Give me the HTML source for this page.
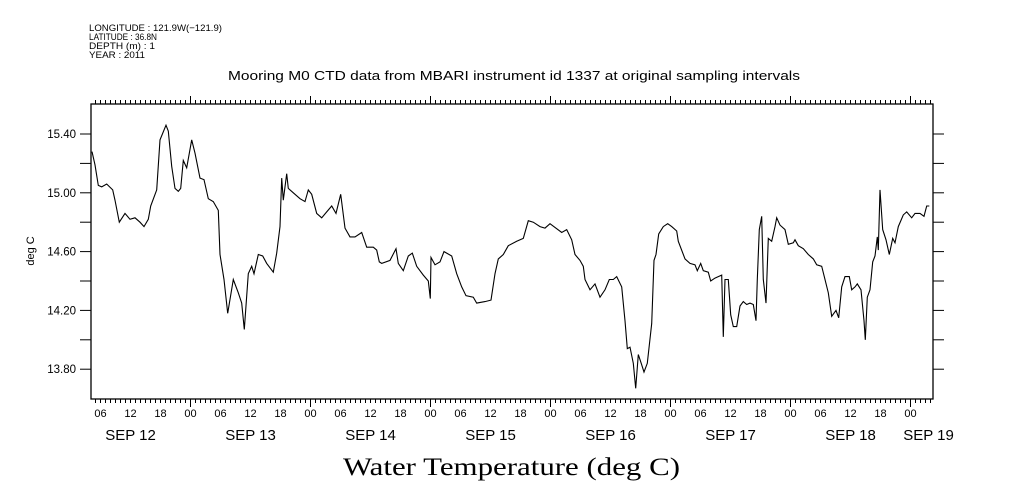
<!DOCTYPE html>
<html><head><meta charset="utf-8"><style>
html,body{margin:0;padding:0;background:#fff;}
svg{display:block;font-family:"Liberation Sans",sans-serif;}
</style></head><body>
<svg id="chart" width="1009" height="504" viewBox="0 0 1009 504" xmlns="http://www.w3.org/2000/svg">
<rect x="0" y="0" width="1009" height="504" fill="#fff"/>
<g font-size="9.5" fill="#000">
<text x="89" y="31" textLength="133" lengthAdjust="spacingAndGlyphs">LONGITUDE : 121.9W(−121.9)</text>
<text x="89" y="40" textLength="68" lengthAdjust="spacingAndGlyphs">LATITUDE : 36.8N</text>
<text x="89" y="49" textLength="66" lengthAdjust="spacingAndGlyphs">DEPTH (m) : 1</text>
<text x="89" y="58" textLength="56" lengthAdjust="spacingAndGlyphs">YEAR : 2011</text>
</g>
<text x="228" y="80" textLength="572" lengthAdjust="spacingAndGlyphs" font-size="13">Mooring M0 CTD data from MBARI instrument id 1337 at original sampling intervals</text>
<text transform="translate(34,251) rotate(-90)" text-anchor="middle" font-size="11">deg C</text>
<text x="343" y="475" textLength="337" lengthAdjust="spacingAndGlyphs" font-size="25" font-family="Liberation Serif, serif">Water Temperature (deg C)</text>
<g id="axes"></g>
<g id="series"></g>
<rect x="91" y="104" width="842" height="295" fill="none" stroke="#000" stroke-width="1.3"/>
</svg>
<script>
const yTicks = [15.40, 15.20, 15.00, 14.80, 14.60, 14.40, 14.20, 14.00, 13.80];
const yTickLabels = ["15.40", "", "15.00", "", "14.60", "", "14.20", "", "13.80"];
const hourLabels = ["06","12","18","00"];
const dayLabels = ["SEP 12","SEP 13","SEP 14","SEP 15","SEP 16","SEP 17","SEP 18","SEP 19"];
// hours since Sep 12 00:00
const hours = [4.30,4.90,5.56,6.24,7.24,8.44,8.90,9.76,10.90,11.90,12.90,13.90,14.70,15.56,16.04,17.24,17.90,19.10,19.56,20.24,20.90,21.56,22.04,22.56,23.24,24.24,24.90,25.90,26.70,27.56,28.56,29.56,29.90,30.70,31.44,32.56,33.56,34.24,34.76,35.56,36.24,36.70,37.56,38.44,39.24,40.56,41.24,41.90,42.24,42.56,43.24,43.56,44.56,45.90,46.90,47.56,48.24,49.24,50.24,51.24,52.24,53.10,54.04,54.90,55.90,56.90,58.24,59.24,60.56,61.24,61.76,62.24,63.90,65.10,65.56,66.56,67.56,68.36,69.24,70.56,71.56,71.96,72.10,72.90,73.90,74.70,76.24,77.24,78.24,79.10,80.56,81.24,82.90,84.10,84.90,85.56,86.56,87.56,89.24,90.56,91.56,92.56,93.90,94.90,95.90,98.24,99.24,100.24,100.90,101.90,102.56,102.90,103.90,104.90,105.90,106.90,107.76,108.56,109.24,110.24,110.90,111.36,111.90,112.56,113.04,113.56,114.24,114.70,115.36,116.24,116.70,117.10,117.64,118.56,119.44,120.24,121.24,121.56,122.90,123.90,124.90,125.36,126.04,126.56,127.56,128.04,128.90,129.56,130.24,130.56,130.90,131.56,132.04,132.56,133.24,133.90,134.56,135.24,135.90,136.56,137.10,137.36,137.76,138.24,138.56,139.10,139.56,140.24,140.90,141.24,141.90,142.90,143.56,144.56,144.90,145.56,146.56,147.56,148.56,149.24,150.24,150.90,151.56,152.24,153.10,153.64,154.24,154.90,155.76,156.24,156.90,157.36,158.10,158.70,158.96,159.36,159.90,160.44,160.90,161.36,161.56,161.90,162.44,163.10,163.76,164.44,164.90,165.56,166.56,167.24,168.24,168.90,169.90,170.70,171.24,171.76];
const temps = [15.28,15.19,15.05,15.04,15.06,15.02,14.95,14.80,14.86,14.82,14.83,14.80,14.77,14.82,14.91,15.02,15.36,15.46,15.42,15.18,15.03,15.01,15.03,15.22,15.17,15.36,15.27,15.10,15.09,14.96,14.94,14.88,14.58,14.41,14.18,14.41,14.32,14.25,14.07,14.45,14.50,14.45,14.58,14.57,14.52,14.46,14.59,14.77,15.10,14.95,15.13,15.03,15.00,14.96,14.94,15.02,14.99,14.86,14.83,14.87,14.91,14.86,14.99,14.76,14.70,14.70,14.73,14.63,14.63,14.61,14.53,14.52,14.54,14.62,14.52,14.47,14.57,14.59,14.50,14.44,14.40,14.28,14.56,14.51,14.53,14.60,14.57,14.45,14.36,14.30,14.29,14.25,14.26,14.27,14.45,14.55,14.58,14.64,14.67,14.69,14.81,14.80,14.77,14.76,14.79,14.73,14.75,14.68,14.58,14.54,14.50,14.41,14.34,14.38,14.29,14.34,14.41,14.41,14.43,14.36,14.13,13.94,13.95,13.84,13.67,13.90,13.83,13.78,13.84,14.11,14.54,14.58,14.72,14.77,14.79,14.77,14.74,14.67,14.55,14.52,14.51,14.47,14.52,14.47,14.46,14.40,14.42,14.43,14.44,14.02,14.41,14.41,14.17,14.09,14.09,14.23,14.26,14.24,14.25,14.24,14.13,14.41,14.75,14.84,14.41,14.25,14.69,14.67,14.77,14.83,14.78,14.75,14.65,14.66,14.68,14.64,14.62,14.58,14.55,14.51,14.50,14.41,14.32,14.16,14.20,14.15,14.36,14.43,14.43,14.34,14.36,14.38,14.34,14.13,14.00,14.29,14.34,14.53,14.57,14.70,14.61,15.02,14.75,14.68,14.58,14.69,14.66,14.77,14.85,14.87,14.83,14.86,14.86,14.84,14.91,14.91];

const NS = "http://www.w3.org/2000/svg";
const L = 91, R = 933, T = 104, B = 399;
const X0 = 190.5, PXH = 5; // Sep13 00 at X0, 5px per hour
function xScale(h){ return X0 + (h - 24) * PXH; }
function yScale(v){ return 134 + (15.4 - v) * 147; }
function mk(tag, attrs, parent){
  const e = document.createElementNS(NS, tag);
  for (const k in attrs) e.setAttribute(k, attrs[k]);
  parent.appendChild(e); return e;
}
const axes = document.getElementById('axes');
const hStart = Math.ceil((L - X0) / PXH + 24), hEnd = Math.floor((R - X0) / PXH + 24);
for (let h = hStart; h <= hEnd; h++) {
  const x = xScale(h);
  const len = h % 24 === 0 ? 8 : 4;
  const tb = mk('line', {x1:x, y1:B, x2:x, y2:B+len, stroke:'#000', 'stroke-width':1}, axes);
  
  
  const tt = mk('line', {x1:x, y1:T, x2:x, y2:T-len, stroke:'#000', 'stroke-width':1}, axes);
  
  
  if (h % 6 === 0) {
    const t = mk('text', {x:x, y:417, 'text-anchor':'middle', 'font-size':11}, axes);
    t.textContent = hourLabels[((h / 6) + 3) % 4];
    
    
  }
  if (h % 24 === 12) {
    const d = mk('text', {x:x, y:440, 'text-anchor':'middle', 'font-size':15}, axes);
    d.textContent = dayLabels[(h - 12) / 24];
    
    
  }
}
{
  const d = mk('text', {x:xScale(168)+18, y:440, 'text-anchor':'middle', 'font-size':15}, axes);
  d.textContent = dayLabels[7];
  
  
}
yTicks.forEach((v, i) => {
  const y = yScale(v);
  const a = mk('line', {x1:L-11, y1:y, x2:L, y2:y, stroke:'#000', 'stroke-width':1}, axes);
  
  
  const b = mk('line', {x1:R, y1:y, x2:R+11, y2:y, stroke:'#000', 'stroke-width':1}, axes);
  
  
  if (yTickLabels[i]) {
    const t = mk('text', {x:76, y:y+4, 'text-anchor':'end', 'font-size':11.5}, axes);
    t.textContent = yTickLabels[i];
    
    
  }
});
const series = document.getElementById('series');
const pts = hours.map((h, i) => xScale(h).toFixed(1) + ',' + yScale(temps[i]).toFixed(1)).join(' ');
const line = mk('polyline', {points:pts, fill:'none', stroke:'#000', 'stroke-width':1.1}, series);


</script>
</body></html>
